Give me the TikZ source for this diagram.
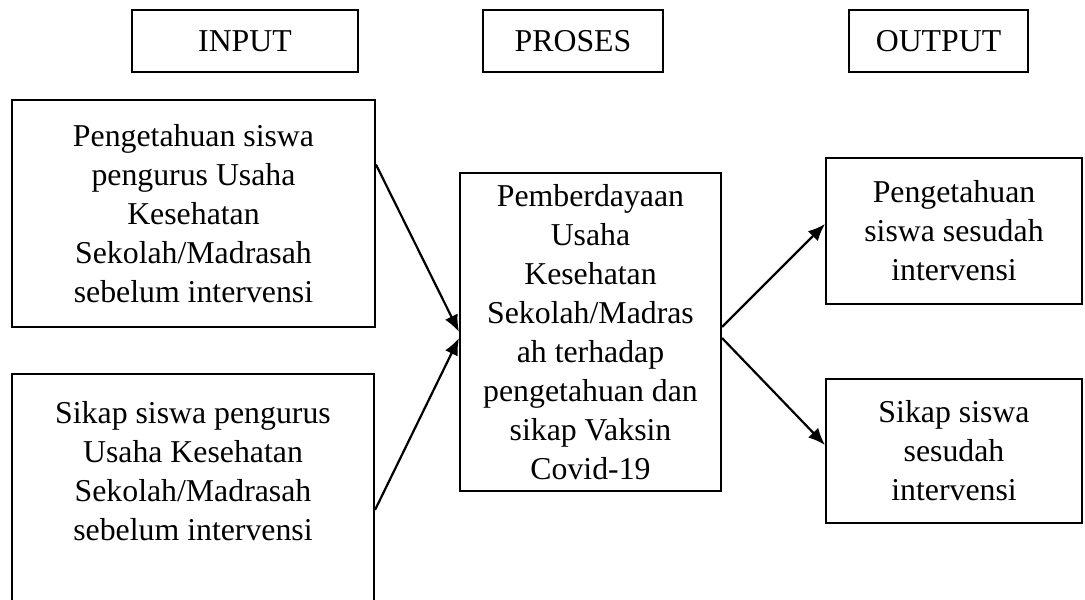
\documentclass[tikz,border=0pt]{standalone}
\usepackage{fontspec}
\setmainfont{Liberation Serif}
\usetikzlibrary{arrows.meta}

\begin{document}
\begin{tikzpicture}[x=0.5pt,y=-0.5pt,
    box/.style={draw,line width=1pt,align=center,inner sep=0pt,
      font=\fontsize{15.9}{19.5}\selectfont},
    arr/.style={-{Latex[length=8.5pt,width=7pt]},line width=1.1pt}]
  \useasboundingbox (0,0) rectangle (1085,599);
  \clip (0,0) rectangle (1085,599);
  % headers
  \node[box,minimum width=113pt,minimum height=31pt] (h_in) at (245,41) {INPUT};
  \node[box,minimum width=90pt,minimum height=31pt] (h_proc) at (573,41) {PROSES};
  \node[box,minimum width=89.5pt,minimum height=31pt] (h_out) at (938.5,41) {OUTPUT};
  % input
  \node[box,minimum width=181.5pt,minimum height=113.5pt] (in_1) at (193.5,213.5)
    {Pengetahuan siswa\\pengurus Usaha\\Kesehatan\\Sekolah/Madrasah\\sebelum intervensi};
  \node[box,minimum width=181pt,minimum height=136pt] (in_2) at (193,510)
    {Sikap siswa pengurus\\Usaha Kesehatan\\Sekolah/Madrasah\\sebelum intervensi\\~\\~};
  % proses
  \node[box,minimum width=130.5pt,minimum height=159pt] (proc) at (590.5,332)
    {Pemberdayaan\\Usaha\\Kesehatan\\Sekolah/Madras\\ah terhadap\\pengetahuan dan\\sikap Vaksin\\Covid-19};
  % output
  \node[box,minimum width=128pt,minimum height=73pt] (out_1) at (954,231)
    {Pengetahuan\\siswa sesudah\\intervensi};
  \node[box,minimum width=128pt,minimum height=72pt] (out_2) at (954,451)
    {Sikap siswa\\sesudah\\intervensi};
  \path[arr]
    (in_1.15) edge (proc.west)
    (in_2.east) edge ([yshift=-3pt]proc.west)
    ([yshift=2.5pt]proc.east) edge ([yshift=3.5pt]out_1.west)
    ([yshift=-3pt]proc.east) edge ([yshift=3pt]out_2.west);
\end{tikzpicture}
\end{document}
